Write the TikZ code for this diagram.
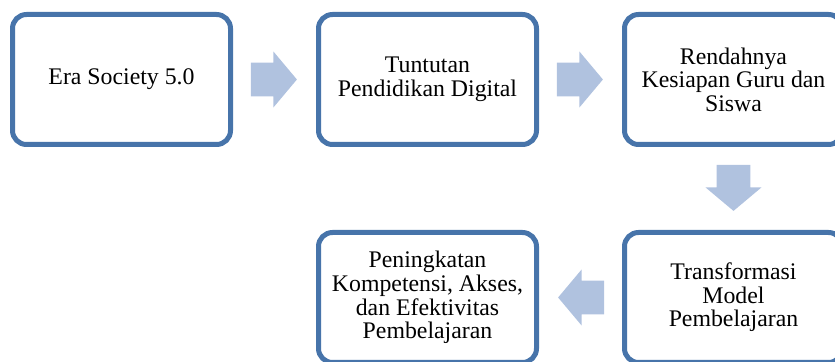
\documentclass[tikz,border=0pt]{standalone}
\usepackage{fontspec}
\setmainfont{Liberation Serif}
\usepackage{tikz}
\usetikzlibrary{positioning,calc,shapes.arrows}

\definecolor{garisbiru}{RGB}{71,116,170}
\definecolor{panahbiru}{RGB}{176,194,223}

\begin{document}
\begin{tikzpicture}[x=.5pt,y=-.5pt,
		kotak/.style={draw=garisbiru,line width=2.5pt,rounded corners=7pt,fill=white,
			minimum width=109pt,minimum height=65pt,inner sep=0pt,align=center,
			font=\fontsize{11.9}{11.8}\selectfont},
		panah/.style={single arrow,fill=panahbiru,draw=none,inner xsep=0pt,inner ysep=8.25pt,
			minimum width=27.5pt,minimum height=23pt,anchor=tail,
			single arrow head extend=5.5pt,single arrow tip angle=100},
		panahv/.style={panah,inner xsep=8.25pt,inner ysep=0pt}]
		\useasboundingbox (0,0) rectangle (835,362);
		\clip (0,0) rectangle (835,362);
		% baris atas
		\node[kotak] (era) at (121.5,79.5) {Era Society 5.0};
		\node[kotak,right=41.5pt of era] (tuntutan) {Tuntutan\\Pendidikan Digital};
		\node[kotak,right=41.5pt of tuntutan] (rendah) {Rendahnya\\Kesiapan Guru dan\\Siswa};
		% baris bawah
		\node[kotak,below=41.5pt of rendah] (transf) {Transformasi\\Model\\Pembelajaran};
		\node[kotak,left=41.5pt of transf] (peningkatan) {Peningkatan\\Kompetensi, Akses,\\dan Efektivitas\\Pembelajaran};
		% panah blok, ekor 11.5pt sebelum titik tengah
		\foreach \aa/\bb/\rr/\ss in {era/tuntutan/0/panah,tuntutan/rendah/0/panah,
			rendah/transf/270/panahv,transf/peningkatan/180/panah}
		{
			\coordinate (m\aa) at ($(\aa)!.5!(\bb)$);
			\node[\ss,shape border rotate=\rr] (p\aa) at ($(m\aa)!12pt!(\aa)$) {};
		}
	\end{tikzpicture}
\end{document}
